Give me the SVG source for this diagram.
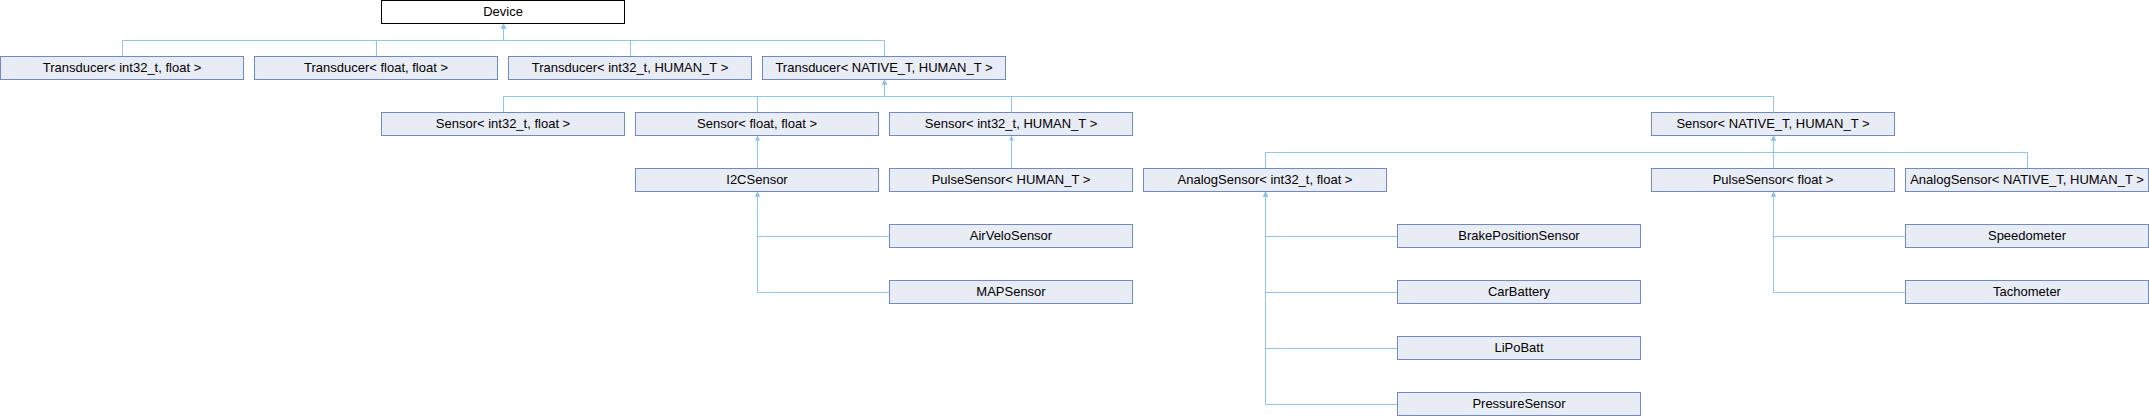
<svg xmlns="http://www.w3.org/2000/svg" width="2149" height="416" viewBox="0 0 2149 416">
<style>
.node rect{fill:#E8ECF5;stroke:#7189C3;stroke-width:1}
#device rect{fill:#FFFFFF;stroke:#000000}
text{font-family:"Liberation Sans",Arial,sans-serif;font-size:13px;text-anchor:middle;fill:#000}
.edge path{fill:none;stroke:#8CC6EC;stroke-width:1;marker-end:url(#arr)}
</style>
<defs>
<marker id="arr" viewBox="0 0 10 10" refX="10" refY="5" markerUnits="userSpaceOnUse" markerWidth="5" markerHeight="6" orient="auto">
<path d="M0,0 L10,5 L0,10 z" fill="#8CC6EC"/>
</marker>
</defs>
<rect width="2149" height="416" fill="#fff"/>
<g class="edge" id="connectors">
<path d="M122.5,56.5 V40.5 H503.5 V23.5"/>
<path d="M376.5,56.5 V40.5 H503.5 V23.5"/>
<path d="M630.5,56.5 V40.5 H503.5 V23.5"/>
<path d="M884.5,56.5 V40.5 H503.5 V23.5"/>
<path d="M503.5,112.5 V96.5 H884.5 V79.5"/>
<path d="M757.5,112.5 V96.5 H884.5 V79.5"/>
<path d="M1011.5,112.5 V96.5 H884.5 V79.5"/>
<path d="M1773.5,112.5 V96.5 H884.5 V79.5"/>
<path d="M757.5,168.5 V135.5"/>
<path d="M1011.5,168.5 V135.5"/>
<path d="M1265.5,168.5 V152.5 H1773.5 V135.5"/>
<path d="M1773.5,168.5 V135.5"/>
<path d="M2027.5,168.5 V152.5 H1773.5 V135.5"/>
<path d="M889.5,236.5 H757.5 V191.5"/>
<path d="M889.5,292.5 H757.5 V191.5"/>
<path d="M1397.5,236.5 H1265.5 V191.5"/>
<path d="M1397.5,292.5 H1265.5 V191.5"/>
<path d="M1397.5,348.5 H1265.5 V191.5"/>
<path d="M1397.5,404.5 H1265.5 V191.5"/>
<path d="M1905.5,236.5 H1773.5 V191.5"/>
<path d="M1905.5,292.5 H1773.5 V191.5"/>
</g>
<g class="node" id="device"><rect x="381.5" y="0.5" width="243" height="23"/><text x="503" y="16">Device</text></g>
<g class="node" id="transducer_int32_float"><rect x="0.5" y="56.5" width="243" height="23"/><text x="122" y="72">Transducer&lt; int32_t, float &gt;</text></g>
<g class="node" id="transducer_float_float"><rect x="254.5" y="56.5" width="243" height="23"/><text x="376" y="72">Transducer&lt; float, float &gt;</text></g>
<g class="node" id="transducer_int32_human"><rect x="508.5" y="56.5" width="243" height="23"/><text x="630" y="72">Transducer&lt; int32_t, HUMAN_T &gt;</text></g>
<g class="node" id="transducer_native_human"><rect x="762.5" y="56.5" width="243" height="23"/><text x="884" y="72">Transducer&lt; NATIVE_T, HUMAN_T &gt;</text></g>
<g class="node" id="sensor_int32_float"><rect x="381.5" y="112.5" width="243" height="23"/><text x="503" y="128">Sensor&lt; int32_t, float &gt;</text></g>
<g class="node" id="sensor_float_float"><rect x="635.5" y="112.5" width="243" height="23"/><text x="757" y="128">Sensor&lt; float, float &gt;</text></g>
<g class="node" id="sensor_int32_human"><rect x="889.5" y="112.5" width="243" height="23"/><text x="1011" y="128">Sensor&lt; int32_t, HUMAN_T &gt;</text></g>
<g class="node" id="sensor_native_human"><rect x="1651.5" y="112.5" width="243" height="23"/><text x="1773" y="128">Sensor&lt; NATIVE_T, HUMAN_T &gt;</text></g>
<g class="node" id="i2csensor"><rect x="635.5" y="168.5" width="243" height="23"/><text x="757" y="184">I2CSensor</text></g>
<g class="node" id="pulsesensor_human"><rect x="889.5" y="168.5" width="243" height="23"/><text x="1011" y="184">PulseSensor&lt; HUMAN_T &gt;</text></g>
<g class="node" id="analogsensor_int32_float"><rect x="1143.5" y="168.5" width="243" height="23"/><text x="1265" y="184">AnalogSensor&lt; int32_t, float &gt;</text></g>
<g class="node" id="pulsesensor_float"><rect x="1651.5" y="168.5" width="243" height="23"/><text x="1773" y="184">PulseSensor&lt; float &gt;</text></g>
<g class="node" id="analogsensor_native_human"><rect x="1905.5" y="168.5" width="243" height="23"/><text x="2027" y="184">AnalogSensor&lt; NATIVE_T, HUMAN_T &gt;</text></g>
<g class="node" id="airvelosensor"><rect x="889.5" y="224.5" width="243" height="23"/><text x="1011" y="240">AirVeloSensor</text></g>
<g class="node" id="mapsensor"><rect x="889.5" y="280.5" width="243" height="23"/><text x="1011" y="296">MAPSensor</text></g>
<g class="node" id="brakepositionsensor"><rect x="1397.5" y="224.5" width="243" height="23"/><text x="1519" y="240">BrakePositionSensor</text></g>
<g class="node" id="carbattery"><rect x="1397.5" y="280.5" width="243" height="23"/><text x="1519" y="296">CarBattery</text></g>
<g class="node" id="lipobatt"><rect x="1397.5" y="336.5" width="243" height="23"/><text x="1519" y="352">LiPoBatt</text></g>
<g class="node" id="pressuresensor"><rect x="1397.5" y="392.5" width="243" height="23"/><text x="1519" y="408">PressureSensor</text></g>
<g class="node" id="speedometer"><rect x="1905.5" y="224.5" width="243" height="23"/><text x="2027" y="240">Speedometer</text></g>
<g class="node" id="tachometer"><rect x="1905.5" y="280.5" width="243" height="23"/><text x="2027" y="296">Tachometer</text></g>
</svg>
